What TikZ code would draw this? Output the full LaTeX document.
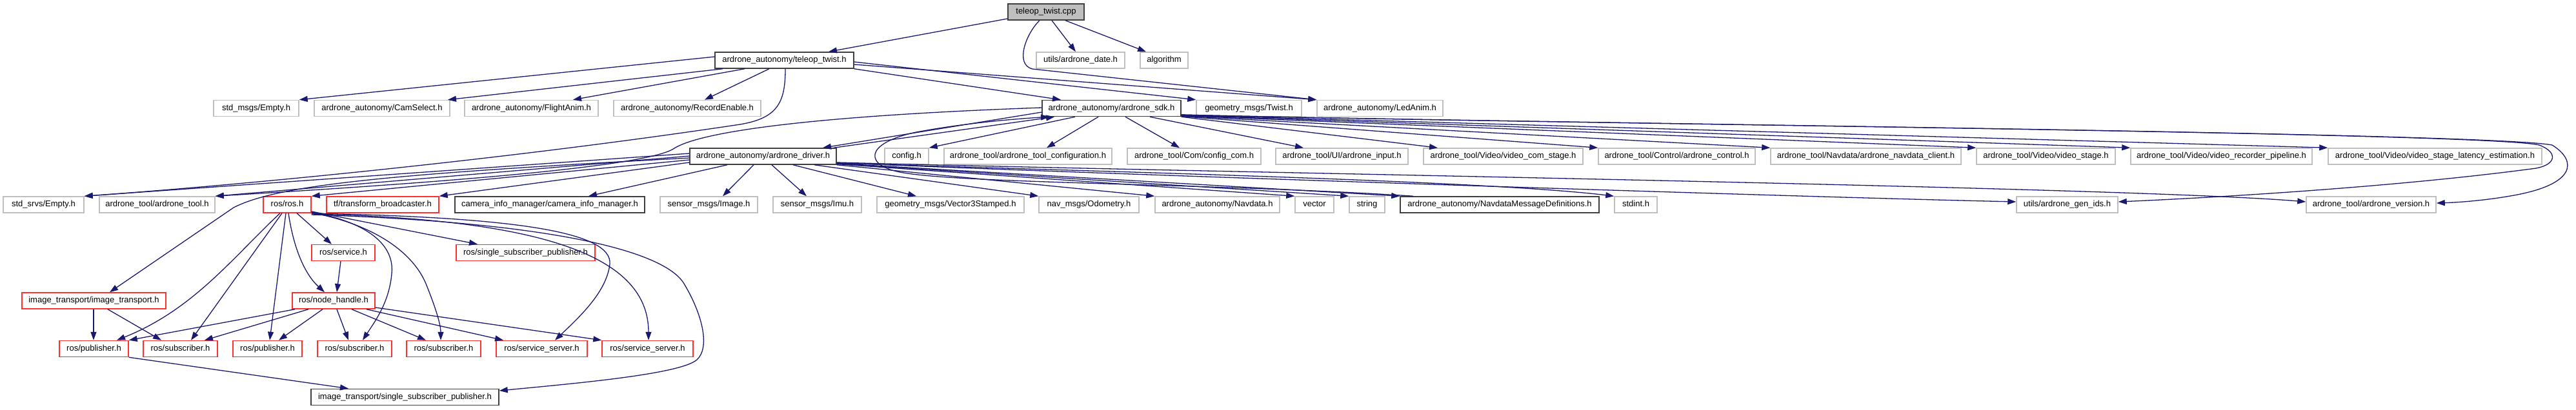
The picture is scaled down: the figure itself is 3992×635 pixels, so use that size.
\documentclass[tikz,border=0pt]{standalone}
\usepackage{fontspec}
\setmainfont{Liberation Sans}
\usetikzlibrary{arrows.meta}
\definecolor{edgec}{HTML}{191970}
\definecolor{greyb}{HTML}{BFBFBF}
\definecolor{blackb}{HTML}{404040}
\definecolor{redb}{HTML}{FF3030}
\definecolor{rootf}{HTML}{BFBFBF}
\tikzset{
 box/.style={draw, line width=1.5pt, minimum height=25pt, inner sep=0pt, text height=9.5pt, text depth=2.7pt, font=\fontsize{13}{15}\selectfont, fill=white},
 gbox/.style={box, draw=greyb},
 kbox/.style={box, draw=blackb},
 rbox/.style={box, draw=redb},
 rootbox/.style={box, draw=blackb, fill=rootf},
 ed/.style={draw=edgec, line width=1.3pt, -{Triangle[length=13pt,width=9pt]}},
}
\begin{document}
\begin{tikzpicture}[x=1pt,y=-1pt]
\fill[white] (0,0) rectangle (3992,635);
\useasboundingbox (0,0) rectangle (3992,635);
% row 0
\node[rootbox, minimum width=118pt] (cpp) at (1621,18.5) {teleop\_twist.cpp};
% row 1
\node[kbox, minimum width=215pt] (teleoph) at (1215.5,93.5) {ardrone\_autonomy/teleop\_twist.h};
\node[gbox, minimum width=137pt] (date) at (1674.5,93.5) {utils/ardrone\_date.h};
\node[gbox, minimum width=74pt] (algorithm) at (1804,93.5) {algorithm};
% row 2
\node[gbox, minimum width=132pt] (stdmsgs) at (397,168) {std\_msgs/Empty.h};
\node[gbox, minimum width=210pt] (camselect) at (592,168) {ardrone\_autonomy/CamSelect.h};
\node[gbox, minimum width=207pt] (flightanim) at (823.5,168) {ardrone\_autonomy/FlightAnim.h};
\node[gbox, minimum width=228pt] (recordenable) at (1065,168) {ardrone\_autonomy/RecordEnable.h};
\node[kbox, minimum width=215pt] (sdk) at (1722.5,168) {ardrone\_autonomy/ardrone\_sdk.h};
\node[gbox, minimum width=163pt] (twist) at (1935.5,168) {geometry\_msgs/Twist.h};
\node[gbox, minimum width=195pt] (ledanim) at (2138.5,168) {ardrone\_autonomy/LedAnim.h};
% row 3
\node[kbox, minimum width=227pt] (driver) at (1182.5,242.5) {ardrone\_autonomy/ardrone\_driver.h};
\node[gbox, minimum width=68pt] (config) at (1405,242.5) {config.h};
\node[gbox, minimum width=260pt] (toolconfig) at (1593,242.5) {ardrone\_tool/ardrone\_tool\_configuration.h};
\node[gbox, minimum width=207pt] (configcom) at (1850.5,242.5) {ardrone\_tool/Com/config\_com.h};
\node[gbox, minimum width=205pt] (input) at (2079.5,242.5) {ardrone\_tool/UI/ardrone\_input.h};
\node[gbox, minimum width=247pt] (videocom) at (2329.5,242.5) {ardrone\_tool/Video/video\_com\_stage.h};
\node[gbox, minimum width=243pt] (control) at (2598.5,242.5) {ardrone\_tool/Control/ardrone\_control.h};
\node[gbox, minimum width=295pt] (navclient) at (2891.5,242.5) {ardrone\_tool/Navdata/ardrone\_navdata\_client.h};
\node[gbox, minimum width=215pt] (videostage) at (3170.5,242.5) {ardrone\_tool/Video/video\_stage.h};
\node[gbox, minimum width=281pt] (recorder) at (3442.5,242.5) {ardrone\_tool/Video/video\_recorder\_pipeline.h};
\node[gbox, minimum width=331pt] (latency) at (3773.5,242.5) {ardrone\_tool/Video/video\_stage\_latency\_estimation.h};
% row 4
\node[gbox, minimum width=125pt] (stdsrvs) at (67.5,317.5) {std\_srvs/Empty.h};
\node[gbox, minimum width=179pt] (tool) at (243.5,317.5) {ardrone\_tool/ardrone\_tool.h};
\node[rbox, minimum width=74pt] (ros) at (445,317.5) {ros/ros.h};
\node[rbox, minimum width=174pt] (tfb) at (593,317.5) {tf/transform\_broadcaster.h};
\node[kbox, minimum width=294pt] (caminfo) at (852,317.5) {camera\_info\_manager/camera\_info\_manager.h};
\node[gbox, minimum width=151pt] (image) at (1098.5,317.5) {sensor\_msgs/Image.h};
\node[gbox, minimum width=137pt] (imu) at (1266.5,317.5) {sensor\_msgs/Imu.h};
\node[gbox, minimum width=228pt] (vec3) at (1473,317.5) {geometry\_msgs/Vector3Stamped.h};
\node[gbox, minimum width=155pt] (odom) at (1687.5,317.5) {nav\_msgs/Odometry.h};
\node[gbox, minimum width=193pt] (navdata) at (1886.5,317.5) {ardrone\_autonomy/Navdata.h};
\node[gbox, minimum width=60pt] (vector) at (2037,317.5) {vector};
\node[gbox, minimum width=55pt] (string) at (2118.5,317.5) {string};
\node[kbox, minimum width=308pt] (navdef) at (2324,317.5) {ardrone\_autonomy/NavdataMessageDefinitions.h};
\node[gbox, minimum width=66pt] (stdint) at (2535,317.5) {stdint.h};
\node[gbox, minimum width=157pt] (genids) at (3203.5,317.5) {utils/ardrone\_gen\_ids.h};
\node[gbox, minimum width=201pt] (version) at (3674.5,317.5) {ardrone\_tool/ardrone\_version.h};
% row 5
\node[rbox, minimum width=98pt] (service) at (532,392) {ros/service.h};
\node[rbox, minimum width=215pt] (ssp) at (814.5,392) {ros/single\_subscriber\_publisher.h};
% row 6
\node[rbox, minimum width=223pt] (imgtrans) at (145.5,466.5) {image\_transport/image\_transport.h};
\node[rbox, minimum width=128pt] (nodehandle) at (517,466.5) {ros/node\_handle.h};
% row 7
\node[rbox, minimum width=107pt] (pub1) at (145.5,541) {ros/publisher.h};
\node[rbox, minimum width=115pt] (sub1) at (279.5,541) {ros/subscriber.h};
\node[rbox, minimum width=107pt] (pub2) at (414.5,541) {ros/publisher.h};
\node[rbox, minimum width=115pt] (sub2) at (549.5,541) {ros/subscriber.h};
\node[rbox, minimum width=115pt] (sub3) at (687.5,541) {ros/subscriber.h};
\node[rbox, minimum width=141pt] (ss1) at (839.5,541) {ros/service\_server.h};
\node[rbox, minimum width=141pt] (ss2) at (1003.5,541) {ros/service\_server.h};
% row 8
\node[kbox, minimum width=291pt] (itssp) at (627.5,616) {image\_transport/single\_subscriber\_publisher.h};

% ---- edges from teleop_twist.cpp
\draw[ed] (cpp.west |- 0,29) -- (teleoph.north -| 1284,0);
\draw[ed] (cpp.south -| 1630,0) -- (date.north -| 1667,0);
\draw[ed] (cpp.south -| 1651,0) -- (algorithm.north -| 1776,0);
\draw[ed] (cpp.south -| 1611,0) .. controls (1590,52) and (1572,100) .. (1600,107) -- (ledanim.north west);
% ---- edges from teleop_twist.h
\draw[ed] (teleoph.east |- 0,100) -- (ledanim.north west);
\draw[ed] (teleoph.east |- 0,96) -- (twist.north west);
\draw[ed] (teleoph.south east) -- (sdk.north -| 1644,0);
\draw[ed] (teleoph.west |- 0,88) -- (stdmsgs.north east);
\draw[ed] (teleoph.south -| 1120,0) -- (camselect.north -| 694,0);
\draw[ed] (teleoph.south -| 1154,0) -- (flightanim.north -| 888,0);
\draw[ed] (teleoph.south -| 1192,0) -- (recordenable.north -| 1092,0);
\draw[ed] (teleoph.south -| 1217,0) .. controls (1217,160) and (1205,185) .. (1140,194) .. controls (800,245) and (400,285) .. (stdsrvs.north east);
% ---- edges from ardrone_sdk.h
\draw[ed] (sdk.south -| 1666,0) -- (config.north east);
\draw[ed] (sdk.south -| 1702,0) -- (toolconfig.north -| 1622,0);
\draw[ed] (sdk.south -| 1744,0) -- (configcom.north -| 1828,0);
\draw[ed] (sdk.south -| 1782,0) -- (input.north -| 2020,0);
\draw[ed] (sdk.south east) -- (videocom.north -| 2228,0);
\draw[ed] (sdk.east |- 0,180.5) -- (control.north west);
\draw[ed] (sdk.east |- 0,180) -- (navclient.north west);
\draw[ed] (sdk.east |- 0,179.5) -- (videostage.north west);
\draw[ed] (sdk.east |- 0,179) -- (recorder.north west);
\draw[ed] (sdk.east |- 0,178.5) -- (latency.north west);
\draw[ed] (sdk.east |- 0,178) .. controls (2400,192) and (3850,205) .. (3935,225) .. controls (3964,236) and (3962,255) .. (3930,261) .. controls (3700,292) and (3400,308) .. (genids.east |- 0,313);
\draw[ed] (sdk.east |- 0,178) .. controls (2400,192) and (3850,205) .. (3955,225) .. controls (3995,250) and (3992,287) .. (3890,304) .. controls (3850,311) and (3810,314) .. (version.east |- 0,315);
\draw[ed] (sdk.west |- 0,174) -- (driver.north -| 1275,0);
\draw[ed] (sdk.west |- 0,167) .. controls (1250,180) and (1085,205) .. (1045,230) .. controls (1000,262) and (600,288) .. (tool.north east);
% ---- edges from ardrone_driver.h
\draw[ed] (driver.north -| 1292,0) -- (sdk.south -| 1634,0);
\draw[ed] (driver.west |- 0,238) -- (stdsrvs.north east);
\draw[ed] (driver.west |- 0,242) -- (tool.north east);
\draw[ed] (driver.west |- 0,245) .. controls (600,270) and (430,287) .. (362,322) -- (imgtrans.north -| 170,0);
\draw[ed] (driver.west |- 0,248) -- (ros.north east);
\draw[ed] (driver.west |- 0,252) -- (tfb.north east);
\draw[ed] (driver.south -| 1127,0) -- (caminfo.north -| 912,0);
\draw[ed] (driver.south -| 1168,0) -- (image.north -| 1120,0);
\draw[ed] (driver.south -| 1196,0) -- (imu.north -| 1250,0);
\draw[ed] (driver.south -| 1229,0) -- (vec3.north -| 1420,0);
\draw[ed] (driver.south -| 1262,0) -- (odom.north west);
\draw[ed] (driver.south east) -- (navdata.north west);
\draw[ed] (driver.east |- 0,254.5) -- (vector.north west);
\draw[ed] (driver.east |- 0,254) -- (string.north west);
\draw[ed] (driver.east |- 0,253.5) -- (navdef.north west);
\draw[ed] (driver.east |- 0,253) .. controls (1700,266) and (2300,280) .. (stdint.north west);
\draw[ed] (driver.east |- 0,252.5) .. controls (1700,270) and (2800,306) .. (genids.west |- 0,313);
\draw[ed] (driver.east |- 0,252) .. controls (1900,268) and (3300,290) .. (version.west |- 0,313);
% ---- NavdataMessageDefinitions.h -> ardrone_sdk.h
\draw[ed] (navdef.north -| 2190,0) .. controls (1900,285) and (1500,285) .. (1400,268) .. controls (1338,258) and (1338,222) .. (1420,205) .. controls (1500,190) and (1580,184) .. (sdk.south -| 1626,0);
% ---- edges from ros/ros.h
\draw[ed] (ros.south -| 434,0) .. controls (360,400) and (300,480) .. (pub1.north -| 181,0);
\draw[ed] (ros.south -| 437,0) -- (sub1.north -| 296,0);
\draw[ed] (ros.south -| 443,0) -- (pub2.north -| 418,0);
\draw[ed] (ros.south -| 447,0) .. controls (455,385) and (472,425) .. (nodehandle.north -| 503,0);
\draw[ed] (ros.south -| 460,0) -- (service.north -| 514,0);
\draw[ed] (ros.east |- 0,328) -- (ssp.north -| 740,0);
\draw[ed] (ros.east |- 0,329) .. controls (570,345) and (612,380) .. (607,425) .. controls (603,470) and (580,500) .. (sub2.north -| 562,0);
\draw[ed] (ros.east |- 0,330) .. controls (580,348) and (640,392) .. (660,440) .. controls (677,482) and (683,505) .. (sub3.north -| 683,0);
\draw[ed] (ros.east |- 0,331) .. controls (800,337) and (950,360) .. (945,410) .. controls (940,452) and (900,490) .. (ss1.north -| 860,0);
\draw[ed] (ros.east |- 0,332) .. controls (850,340) and (1005,400) .. (ss2.north -| 1005,0);
\draw[ed] (ros.east |- 0,333) .. controls (860,345) and (1030,390) .. (1060,440) .. controls (1090,490) and (1100,540) .. (1080,558) .. controls (1055,580) and (900,594) .. (itssp.east |- 0,606);
% ---- others
\draw[ed] (service.south -| 528,0) -- (nodehandle.north -| 522,0);
\draw[ed] (nodehandle.south -| 457,0) -- (pub1.north east);
\draw[ed] (nodehandle.south -| 478,0) -- (sub1.north -| 317,0);
\draw[ed] (nodehandle.south -| 500,0) -- (pub2.north -| 432,0);
\draw[ed] (nodehandle.south -| 522,0) -- (sub2.north -| 540,0);
\draw[ed] (nodehandle.south -| 545,0) -- (sub3.north -| 660,0);
\draw[ed] (nodehandle.south -| 568,0) -- (ss1.north -| 780,0);
\draw[ed] (nodehandle.east |- 0,477) -- (ss2.north west);
\draw[ed] (imgtrans.south -| 145,0) -- (pub1.north -| 145,0);
\draw[ed] (imgtrans.south -| 167,0) -- (sub1.north -| 250,0);
\draw[ed] (pub1.south east) -- (itssp.north -| 540,0);
\end{tikzpicture}
\end{document}
